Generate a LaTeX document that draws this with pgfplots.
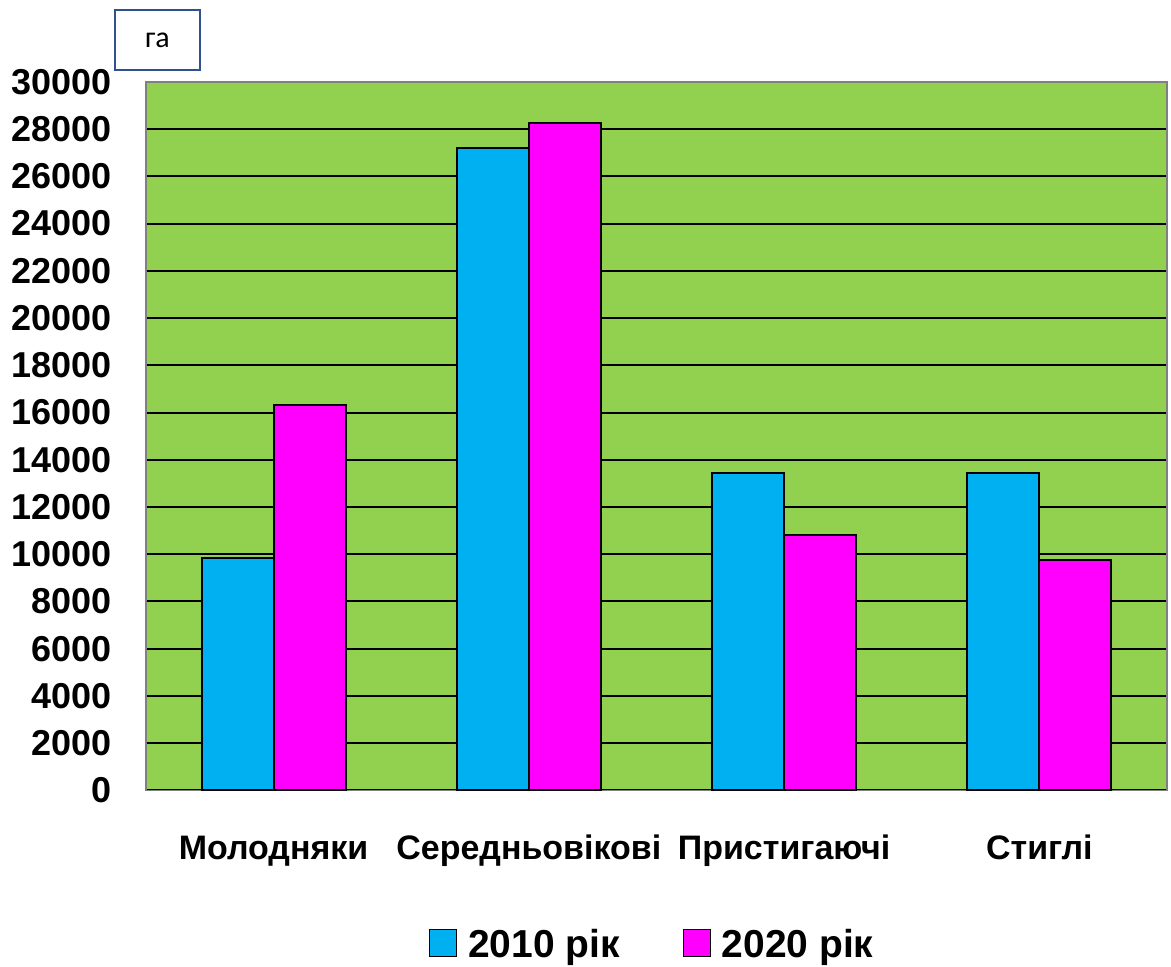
\documentclass[border=0pt]{standalone}
\usepackage{pgfplots}
\pgfplotsset{compat=1.18}
\usepackage{fontspec}
\setmainfont{Liberation Sans}
\newfontfamily\calib{Carlito}
\definecolor{bggreen}{RGB}{146,208,80}
\definecolor{barcyan}{RGB}{0,176,240}
\definecolor{barmag}{RGB}{255,0,255}
\definecolor{boxblue}{RGB}{47,82,143}
\begin{document}
\begin{tikzpicture}
\path[use as bounding box] (-73pt,-88pt) rectangle (513pt,395.5pt);
\begin{axis}[
  scale only axis,
  width=511pt, height=354.5pt,
  at={(0,0)}, anchor=south west,
  xmin=-0.5, xmax=3.5,
  ymin=0, ymax=30000,
  ytick={0,2000,...,30000},
  xtick={0,1,2,3},
  xticklabels={Молодняки, Середньовікові, Пристигаючі, Стиглі},
  major tick length=0pt,
  scaled y ticks=false,
  /pgf/number format/1000 sep={},
  /pgf/number format/assume math mode=true,
  ymajorgrids,
  grid style={black, line width=1pt},
  axis line style={gray, line width=0.8pt},
  axis background/.style={fill=bggreen},
  yticklabel style={font=\fontsize{18}{20}\selectfont\bfseries, anchor=east, inner sep=0pt, xshift=-17pt},
  xticklabel style={font=\fontsize{17}{19}\selectfont\bfseries, anchor=base, inner sep=0pt, yshift=-34.5pt},
  ybar=0pt,
  bar width=0.282,
  legend style={draw=none, fill=none, at={(0.495,-0.216)}, anchor=center,
    font=\fontsize{19.5}{21}\selectfont\bfseries, legend columns=2,
    /tikz/every even column/.append style={column sep=31.5pt},
    nodes={inner sep=0pt, text depth=0pt}},
  legend image code/.code={\draw[#1, draw=black, line width=0.6pt] (0pt,-6.75pt) rectangle (13.5pt,6.75pt);},
]
\addplot[fill=barcyan, draw=black, line width=1pt, bar shift=-0.141] coordinates {(0,9850) (1,27200) (2,13450) (3,13450)};
\addplot[fill=barmag, draw=black, line width=1pt, bar shift=0.141] coordinates {(0,16300) (1,28250) (2,10830) (3,9750)};
\legend{\ 2010 рік, \ 2020 рік}
\end{axis}
\node[draw=boxblue, line width=1pt, minimum width=42.5pt, minimum height=30pt, inner sep=0pt, font=\calib\fontsize{15}{17}\selectfont] at (5.75pt,375.5pt) {га};
\end{tikzpicture}
\end{document}
